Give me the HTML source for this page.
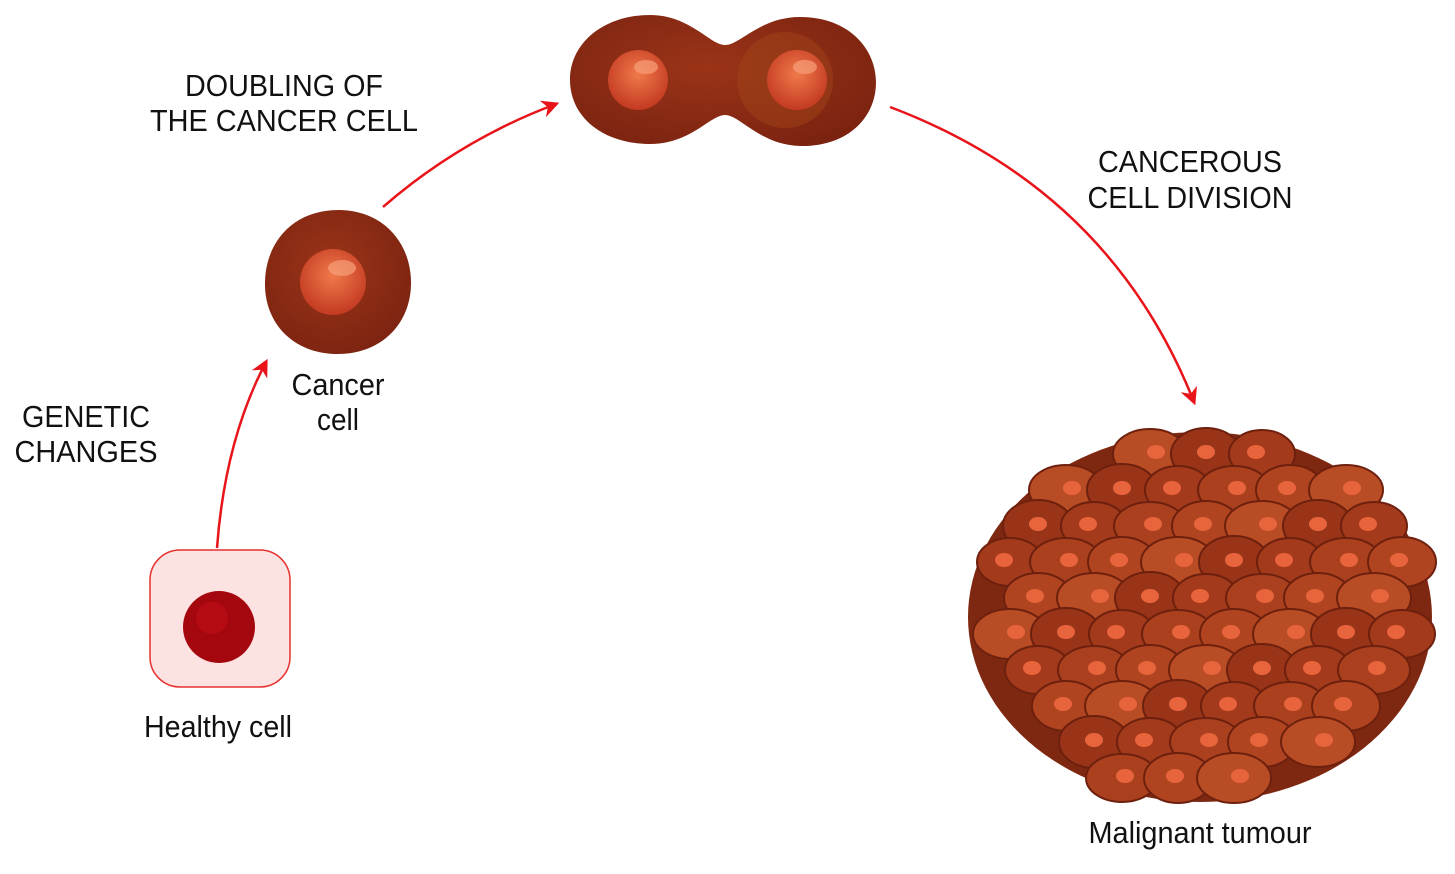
<!DOCTYPE html>
<html><head><meta charset="utf-8"><style>
html,body{margin:0;padding:0;background:#fff;}
svg{display:block;}
text{font-family:"Liberation Sans",sans-serif;fill:#111;text-anchor:middle;font-size:31px;}
</style></head><body>
<svg id="s" width="1455" height="874" viewBox="0 0 1455 874">
<defs>
<radialGradient id="nuc" cx="0.5" cy="0.4" r="0.6"><stop offset="0" stop-color="#f07a4a"/><stop offset="1" stop-color="#c33a22"/></radialGradient>
<radialGradient id="cellg" cx="0.45" cy="0.4" r="0.7"><stop offset="0" stop-color="#9a3418"/><stop offset="1" stop-color="#7a2210"/></radialGradient>
<marker id="ah" viewBox="0 0 10 10" refX="8" refY="5" markerWidth="7" markerHeight="7" orient="auto"><path d="M0,0 L10,5 L0,10 L3,5 z" fill="#e8141a"/></marker>
</defs>

<g>
<rect x="150" y="550" width="140" height="137" rx="30" fill="#fde2e2" stroke="#e8302f" stroke-width="1.5"/>
<circle cx="219" cy="627" r="36" fill="#a5070f"/>
<circle cx="212" cy="618" r="16" fill="#c01018" opacity="0.6"/>
</g>
<text><tspan x="218" y="737" textLength="148" lengthAdjust="spacingAndGlyphs">Healthy cell</tspan></text>

<path d="M217,548 Q225,440 266,362" fill="none" stroke="#e8141a" stroke-width="2.5" marker-end="url(#ah)"/>
<text><tspan x="86" y="427" textLength="128" lengthAdjust="spacingAndGlyphs">GENETIC</tspan><tspan x="86" y="462" textLength="143" lengthAdjust="spacingAndGlyphs">CHANGES</tspan></text>

<g>
<path d="M338,210 C385,210 412,245 411,285 C410,325 380,355 336,354 C292,353 264,322 265,282 C266,240 295,210 338,210 Z" fill="url(#cellg)"/>
<circle cx="333" cy="282" r="33" fill="url(#nuc)"/>
<ellipse cx="342" cy="268" rx="14" ry="8" fill="#f7a07a" opacity="0.7"/>
</g>
<text><tspan x="338" y="395" textLength="93" lengthAdjust="spacingAndGlyphs">Cancer</tspan><tspan x="338" y="430" textLength="42" lengthAdjust="spacingAndGlyphs">cell</tspan></text>

<path d="M383,207 Q460,140 556,104" fill="none" stroke="#e8141a" stroke-width="2.5" marker-end="url(#ah)"/>
<text><tspan x="284" y="96" textLength="198" lengthAdjust="spacingAndGlyphs">DOUBLING OF</tspan><tspan x="284" y="131" textLength="268" lengthAdjust="spacingAndGlyphs">THE CANCER CELL</tspan></text>

<g>
<path d="M650,15 C690,15 710,45 725,45 C740,45 760,17 800,17 C850,17 876,50 876,82 C876,120 845,147 800,146 C760,145 740,115 725,115 C710,115 690,145 648,144 C600,143 570,115 570,80 C570,42 605,15 650,15 Z" fill="url(#cellg)"/>
<ellipse cx="785" cy="80" rx="48" ry="48" fill="#a04418" opacity="0.5"/>
<circle cx="638" cy="80" r="30" fill="url(#nuc)"/>
<circle cx="797" cy="80" r="30" fill="url(#nuc)"/>
<ellipse cx="646" cy="67" rx="12" ry="7" fill="#f7a07a" opacity="0.7"/>
<ellipse cx="805" cy="67" rx="12" ry="7" fill="#f7a07a" opacity="0.7"/>
</g>

<path d="M890,107 Q1110,190 1194,402" fill="none" stroke="#e8141a" stroke-width="2.5" marker-end="url(#ah)"/>
<text><tspan x="1190" y="172" textLength="184" lengthAdjust="spacingAndGlyphs">CANCEROUS</tspan><tspan x="1190" y="208" textLength="205" lengthAdjust="spacingAndGlyphs">CELL DIVISION</tspan></text>

<g id="tumour">
<ellipse cx="1200" cy="617" rx="232" ry="185" fill="#7e2812"/>
</g>
<text><tspan x="1200" y="843" textLength="223" lengthAdjust="spacingAndGlyphs">Malignant tumour</tspan></text>
</svg>
<script>
var g=document.getElementById('tumour');
var NS='http://www.w3.org/2000/svg';
var cx=1200,cy=617,rx=236,ry=188;
var row=0;
for(var y=cy-ry+25;y<=cy+ry-15;y+=36){
  var off=(row%2)*28;
  for(var x=cx-rx+18+off;x<=cx+rx;x+=56){
    var dx=(x-cx)/(rx-18),dy=(y-cy)/(ry-14);
    if(dx*dx+dy*dy>1)continue;
    var sh=((row*7+Math.round(x/7))%5);
    var c=document.createElementNS(NS,'ellipse');
    c.setAttribute('cx',x);c.setAttribute('cy',y);
    c.setAttribute('rx',33+sh);c.setAttribute('ry',24+(sh%3));
    c.setAttribute('fill',['#a33a1c','#b04420','#9a3418','#aa401e','#b84c24'][sh]);
    c.setAttribute('stroke','#6e200e');c.setAttribute('stroke-width','2');
    
    
    g.appendChild(c);
    var n=document.createElementNS(NS,'ellipse');
    n.setAttribute('cx',x+(sh-2)*3);n.setAttribute('cy',y-2);
    n.setAttribute('rx',9);n.setAttribute('ry',7);
    n.setAttribute('fill','#e8643c');
    
    
    g.appendChild(n);
  }
  row++;
}
</script>
</body></html>
